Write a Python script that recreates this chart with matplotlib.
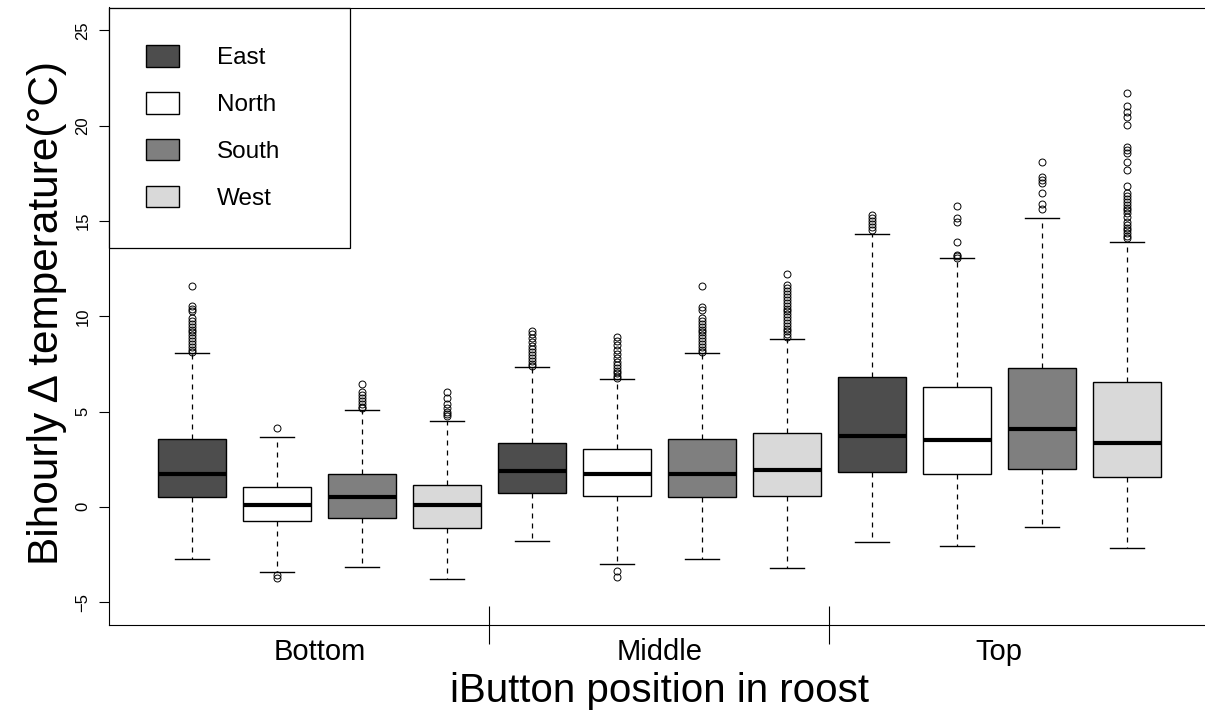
import numpy as np
import matplotlib
matplotlib.use('Agg')
import matplotlib.pyplot as plt
from matplotlib.patches import Patch

plt.rcParams['font.family'] = ['Liberation Sans', 'DejaVu Sans']

## Data: bihourly delta temperature per iButton (position x side)
groups = ['Bottom', 'Middle', 'Top']
sides = ['East', 'North', 'South', 'West']
side_fill = ['#4D4D4D', '#FFFFFF', '#7F7F7F', '#D9D9D9']

# one entry per box, order: Bottom E/N/S/W, Middle E/N/S/W, Top E/N/S/W
q1 = [0.49, -0.75, -0.60, -1.09,
      0.72, 0.56, 0.51, 0.56,
      1.84, 1.73, 2.00, 1.56]
med = [1.72, 0.12, 0.49, 0.12,
       1.88, 1.72, 1.72, 1.93,
       3.73, 3.53, 4.08, 3.36]
q3 = [3.58, 1.05, 1.70, 1.16,
      3.37, 3.02, 3.56, 3.86,
      6.79, 6.27, 7.30, 6.53]
whislo = [-2.72, -3.44, -3.16, -3.77,
          -1.79, -2.98, -2.74, -3.23,
          -1.86, -2.03, -1.07, -2.15]
whishi = [8.07, 3.68, 5.10, 4.51,
          7.32, 6.70, 8.07, 8.79,
          14.32, 13.04, 15.18, 13.92]
fliers = [
    [11.6, 10.54, 10.39, 10.25, 9.9, 9.75, 9.6, 9.45, 9.3, 9.15, 9.0, 8.85, 8.7, 8.55, 8.4, 8.25, 8.15],
    [4.12, -3.6, -3.75],
    [6.47, 6.0, 5.86, 5.7, 5.55, 5.4, 5.25, 5.16],
    [6.05, 5.72, 5.42, 5.16, 5.0, 4.85, 4.74],
    [9.23, 9.05, 8.84, 8.67, 8.46, 8.3, 8.1, 7.95, 7.8, 7.65, 7.5, 7.4],
    [8.91, 8.72, 8.49, 8.23, 8.0, 7.79, 7.6, 7.44, 7.3, 7.15, 7.0, 6.85, 6.76, -3.39, -3.7],
    [11.58, 10.51, 10.33, 9.89, 9.75, 9.6, 9.45, 9.3, 9.15, 9.0, 8.85, 8.7, 8.55, 8.4, 8.25, 8.14],
    [12.21, 11.65, 11.47, 11.3, 11.15, 11.0, 10.85, 10.7, 10.55, 10.4, 10.25, 10.1, 9.95, 9.8,
     9.65, 9.5, 9.35, 9.2, 9.05, 8.9],
    [15.3, 15.15, 15.0, 14.85, 14.7, 14.5],
    [15.8, 15.16, 14.97, 13.87, 13.22, 13.15, 13.08],
    [18.08, 17.31, 17.14, 16.98, 16.49, 15.88, 15.63],
    [21.74, 21.04, 20.74, 20.48, 20.01, 18.86, 18.7, 18.56, 18.08, 17.65, 16.81, 16.45, 16.3,
     16.15, 16.0, 15.85, 15.7, 15.55, 15.4, 15.23, 14.97, 14.8, 14.65, 14.5, 14.35, 14.2, 14.09],
]

stats = []
for i in range(len(med)):
    stats.append(dict(q1=q1[i], med=med[i], q3=q3[i], whislo=whislo[i], whishi=whishi[i],
                      fliers=np.array(fliers[i])))
pos = np.arange(1, len(stats) + 1)

fig = plt.figure(figsize=(12.05, 7.11), dpi=100)
W, H = 1205., 711.
ax = fig.add_axes([108.5 / W, (H - 625) / H, (1210 - 108.5) / W, (625 - 7.5) / H])

bp = ax.bxp(stats, positions=pos, widths=0.8, capwidths=0.4, patch_artist=True,
            boxprops=dict(edgecolor='black', linewidth=1.0),
            medianprops=dict(color='black', linewidth=3.0, solid_capstyle='butt'),
            whiskerprops=dict(color='black', linewidth=0.9, linestyle=(0, (4, 4))),
            capprops=dict(color='black', linewidth=1.0),
            flierprops=dict(marker='o', markerfacecolor='none', markeredgecolor='black',
                            markersize=5, markeredgewidth=0.7))
for i, b in enumerate(bp['boxes']):
    b.set_facecolor(side_fill[i % 4])

ax.set_xlim(0.02, 12.98)
ax.set_ylim(-6.2, 26.2)

# y axis, labels parallel to the axis
ax.set_yticks([-5, 0, 5, 10, 15, 20, 25])
ax.tick_params(axis='y', length=7, width=0.8, pad=6, labelsize=12)
for t in ax.get_yticklabels():
    t.set_rotation(90)
    t.set_va('center')

# group names under the axis, separators between groups
ax.set_xticks([2.5, 6.5, 10.5])
ax.set_xticklabels(groups, fontsize=21)
ax.tick_params(axis='x', which='major', length=0, pad=9)
ax.set_xticks([4.5, 8.5], minor=True)
ax.tick_params(axis='x', which='minor', direction='inout', length=27, width=0.8)

for s in ax.spines.values():
    s.set_linewidth(0.8)
    s.set_color('black')

ax.set_ylabel('Bihourly \u0394 temperature(\u00b0C)', fontsize=30.5, va='center')
ax.yaxis.set_label_coords(-0.0554, 0.505)
ax.set_xlabel('iButton position in roost', fontsize=29, va='baseline')
ax.xaxis.set_label_coords(0.5, -0.1248)

handles = [Patch(facecolor=c, edgecolor='black', linewidth=1.0, label=s)
           for s, c in zip(sides, side_fill)]
leg = ax.legend(handles=handles, loc='upper left', bbox_to_anchor=(0, 1, 0.2193, 0),
                mode='expand', borderaxespad=0, fontsize=17.5, frameon=True, fancybox=False,
                framealpha=1, edgecolor='black', handlelength=1.33, handleheight=0.98,
                handletextpad=1.6, borderpad=1.55, labelspacing=0.94)
leg.get_frame().set_linewidth(0.9)

fig.savefig('out.png', dpi=100)
